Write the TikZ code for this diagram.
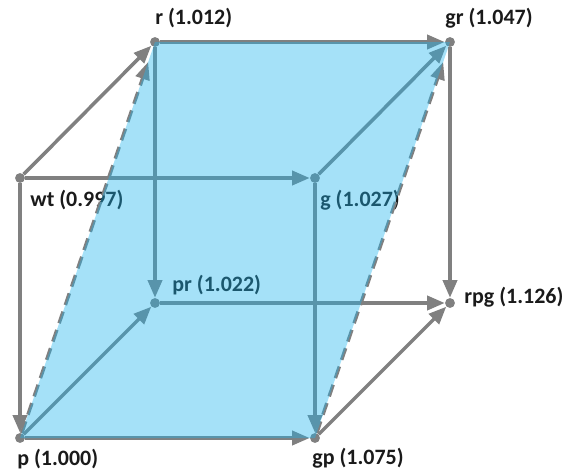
\documentclass[tikz,border=0pt]{standalone}
\usepackage{fontspec}
\setmainfont{Carlito}
\usetikzlibrary{arrows.meta}
\definecolor{lineagris}{HTML}{808080}
\definecolor{capaazul}{RGB}{30,180,237}
\definecolor{textonodo}{HTML}{1A1A1A}

\begin{document}
\begin{tikzpicture}[x=0.02cm, y=-0.02cm,
  v/.style={circle, fill=lineagris, inner sep=0pt, minimum size=5.6pt},
  lab/.style={anchor=west, inner sep=0pt, text=textonodo,
              font=\bfseries\fontsize{12.5}{14}\selectfont},
  flecha/.style={-{Triangle[length=10pt,width=8pt]}, line width=2pt, lineagris},
  trazo/.style={flecha, dash pattern=on 7pt off 4pt, shorten >=9pt}]
\useasboundingbox (0,0) rectangle (566,471);
% lattice points
\node[v] (wt) at (20,178) {};
\node[v] (r) at (155,42) {};
\node[v] (gr) at (450,42) {};
\node[v] (g) at (315,178) {};
\node[v] (pr) at (155,303) {};
\node[v] (rpg) at (450,303) {};
\node[v] (p) at (20,438) {};
\node[v] (gp) at (315,438) {};
% labels
\node[lab] (rl) at (155,18) {r (1.012)};
\node[lab] (grl) at (445,18) {gr (1.047)};
\node[lab] (wtl) at (30,200) {wt (0.997)};
\node[lab] (gl) at (320,200) {g (1.027)};
\node[lab] (prl) at (172,285) {pr (1.022)};
\node[lab] (rpgl) at (464,297) {rpg (1.126)};
\node[lab] (pl) at (17,459) {p (1.000)};
\node[lab] (gpl) at (312,458) {gp (1.075)};
% arrows
\draw[flecha] (wt) -- (r);
\draw[flecha] (wt) -- (g);
\draw[flecha] (wt) -- (p);
\draw[flecha] (r) -- (gr);
\draw[flecha] (r) -- (pr);
\draw[flecha] (g) -- (gr);
\draw[flecha] (g) -- (gp);
\draw[flecha] (gr) -- (rpg);
\draw[flecha] (pr) -- (rpg);
\draw[flecha] (p) -- (pr);
\draw[flecha] (p) -- (gp);
\draw[flecha] (gp) -- (rpg);
\draw[trazo] (p) -- (r);
\draw[trazo] (gp) -- (gr);
% shaded plane
\fill[capaazul, fill opacity=0.4] (p.center) -- (r.center) -- (gr.center) -- (gp.center) -- cycle;
\end{tikzpicture}
\end{document}
